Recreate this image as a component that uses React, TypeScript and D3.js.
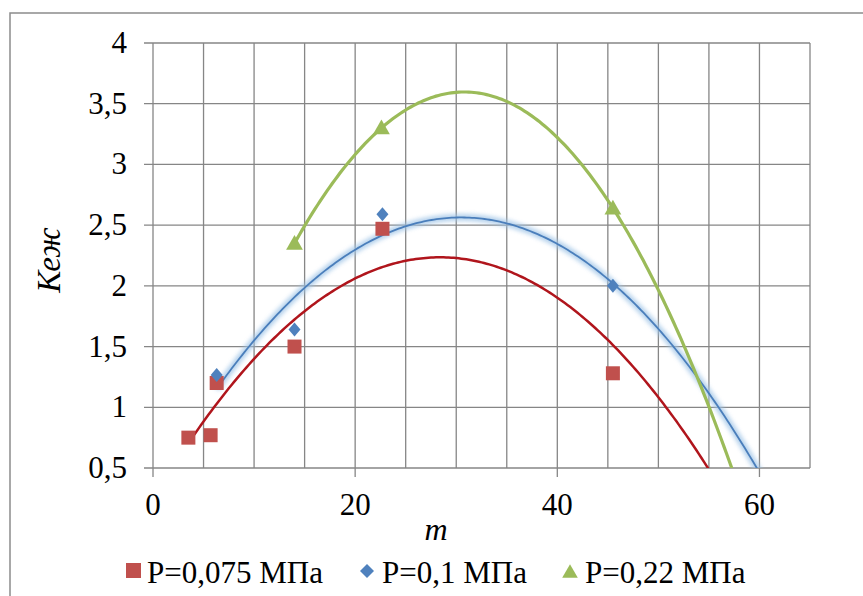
import React from "react";
import * as d3 from "d3";

const seriesNames = ["P=0,075 МПа", "P=0,1 МПа", "P=0,22 МПа"];
const redM = [3.5, 5.7, 6.3, 14, 22.7, 45.5];
const redK = [0.75, 0.77, 1.2, 1.5, 2.47, 1.28];
const blueM = [6.3, 14, 22.7, 45.5];
const blueK = [1.265, 1.64, 2.59, 2.0];
const greenM = [14, 22.6, 45.5];
const greenK = [2.35, 3.3, 2.64];
// red trendline as drawn in the source (vertex m, vertex K, curvature)
const redTrend = [28.4, 2.235, 0.00247];
const xTicks = [0, 20, 40, 60];
const xGrid = [0, 5, 10, 15, 20, 25, 30, 35, 40, 45, 50, 55, 60, 65];
const yTicks = [0.5, 1, 1.5, 2, 2.5, 3, 3.5, 4];
const yLabels = ["0,5", "1", "1,5", "2", "2,5", "3", "3,5", "4"];

// least squares quadratic fit
function polyfit2(xs: number[], ys: number[]): [number, number, number] {
  const n = xs.length;
  let s0 = n, s1 = 0, s2 = 0, s3 = 0, s4 = 0, t0 = 0, t1 = 0, t2 = 0;
  for (let i = 0; i < n; i++) {
    const x = xs[i], y = ys[i];
    s1 += x; s2 += x * x; s3 += x ** 3; s4 += x ** 4;
    t0 += y; t1 += x * y; t2 += x * x * y;
  }
  const A = [[s0, s1, s2, t0], [s1, s2, s3, t1], [s2, s3, s4, t2]];
  for (let i = 0; i < 3; i++) {
    for (let j = i + 1; j < 3; j++) {
      const f = A[j][i] / A[i][i];
      for (let k = i; k < 4; k++) A[j][k] -= f * A[i][k];
    }
  }
  const r = [0, 0, 0];
  for (let i = 2; i >= 0; i--) {
    let s = A[i][3];
    for (let k = i + 1; k < 3; k++) s -= A[i][k] * r[k];
    r[i] = s / A[i][i];
  }
  return [r[0], r[1], r[2]];
}

const W = 863, H = 596;
const x = d3.scaleLinear().domain([0, 65]).range([153, 810]);
const y = d3.scaleLinear().domain([0.5, 4]).range([468, 43]);

function pathFrom(x0: number, f: (m: number) => number) {
  const pts: [number, number][] = [];
  for (let m = x0; m <= 65; m += 0.25) pts.push([m, f(m)]);
  return d3.line<[number, number]>().x((d) => x(d[0])).y((d) => y(d[1]))(pts) || "";
}

function trend(xs: number[], ys: number[]) {
  const [c, b, a] = polyfit2(xs, ys);
  return pathFrom(d3.min(xs)!, (m) => a * m * m + b * m + c);
}

const FONT = "Liberation Serif";
const GRID = "#868686";

export default function App() {
  const redPath = pathFrom(d3.min(redM)!, (m) => redTrend[1] - redTrend[2] * (m - redTrend[0]) ** 2);
  const bluePath = trend(blueM, blueK);
  const greenPath = trend(greenM, greenK);
  const tri = (cx: number, cy: number, s: number) =>
    `M${cx},${cy - s * 0.6}L${cx + s * 0.6},${cy + s * 0.45}L${cx - s * 0.6},${cy + s * 0.45}Z`;
  return (
    <svg width={W} height={H} style={{ position: "absolute", left: 0, top: 0, background: "#fff" }}>
      <defs>
        <clipPath id="plot">
          <rect x={x(0)} y={y(4)} width={x(65) - x(0)} height={y(0.5) - y(4)} />
        </clipPath>
        <filter id="glow" x="-10%" y="-10%" width="120%" height="120%">
          <feGaussianBlur stdDeviation="2" />
        </filter>
      </defs>
      <rect x={10} y={13} width={900} height={700} fill="#fff" stroke="#8c8c8c" strokeWidth={1.5} />
      {yTicks.map((t) => (
        <line key={"h" + t} x1={x(0) - 9} x2={x(65)} y1={y(t)} y2={y(t)} stroke={GRID} strokeWidth={1.3} />
      ))}
      {xGrid.map((t) => (
        <line key={"v" + t} x1={x(t)} x2={x(t)} y1={y(4)} y2={y(0.5)} stroke={GRID} strokeWidth={1.3} />
      ))}
      {xTicks.map((t) => (
        <line key={"xt" + t} x1={x(t)} x2={x(t)} y1={y(0.5)} y2={y(0.5) + 9} stroke={GRID} strokeWidth={1.3} />
      ))}
      <g fontFamily={FONT} fontSize={31} fill="#000">
        {yTicks.map((t, i) => (
          <text key={"yl" + t} x={127} y={y(t) + 10} textAnchor="end">
            {yLabels[i]}
          </text>
        ))}
        {xTicks.map((t) => (
          <text key={"xl" + t} x={x(t)} y={515} textAnchor="middle">
            {t}
          </text>
        ))}
        <text x={436} y={540} textAnchor="middle" fontStyle="italic" fontSize={32}>m</text>
        <text transform={`translate(60,260) rotate(-90)`} textAnchor="middle" fontStyle="italic" fontSize={33}>Кеж</text>
        <text x={147} y={583}>{seriesNames[0]}</text>
        <text x={382} y={583}>{seriesNames[1]}</text>
        <text x={585} y={583}>{seriesNames[2]}</text>
      </g>
      <g clipPath="url(#plot)" fill="none">
        <path d={redPath} stroke="#B0151C" strokeWidth={2.5} />
        <path d={bluePath} stroke="#9DC3E6" strokeWidth={7} opacity={0.75} filter="url(#glow)" />
        <path d={bluePath} stroke="#4A7EBB" strokeWidth={1.8} />
        <path d={greenPath} stroke="#9BBB59" strokeWidth={3.2} />
      </g>
      {redM.map((m, i) => (
        <rect key={"r" + i} x={x(m) - 7} y={y(redK[i]) - 7} width={14} height={14} fill="#C0504D" />
      ))}
      {blueM.map((m, i) => (
        <path key={"b" + i} d={`M${x(m)},${y(blueK[i]) - 7}L${x(m) + 6},${y(blueK[i])}L${x(m)},${y(blueK[i]) + 7}L${x(m) - 6},${y(blueK[i])}Z`} fill="#4F81BD" />
      ))}
      {greenM.map((m, i) => (
        <path key={"g" + i} d={tri(x(m), y(greenK[i]), 14)} fill="#9BBB59" />
      ))}
      <rect x={126} y={563} width={15} height={15} fill="#C0504D" />
      <path d={`M367,564L374,571L367,578L360,571Z`} fill="#4F81BD" />
      <path d={tri(570, 572, 13)} fill="#9BBB59" />
    </svg>
  );
}
